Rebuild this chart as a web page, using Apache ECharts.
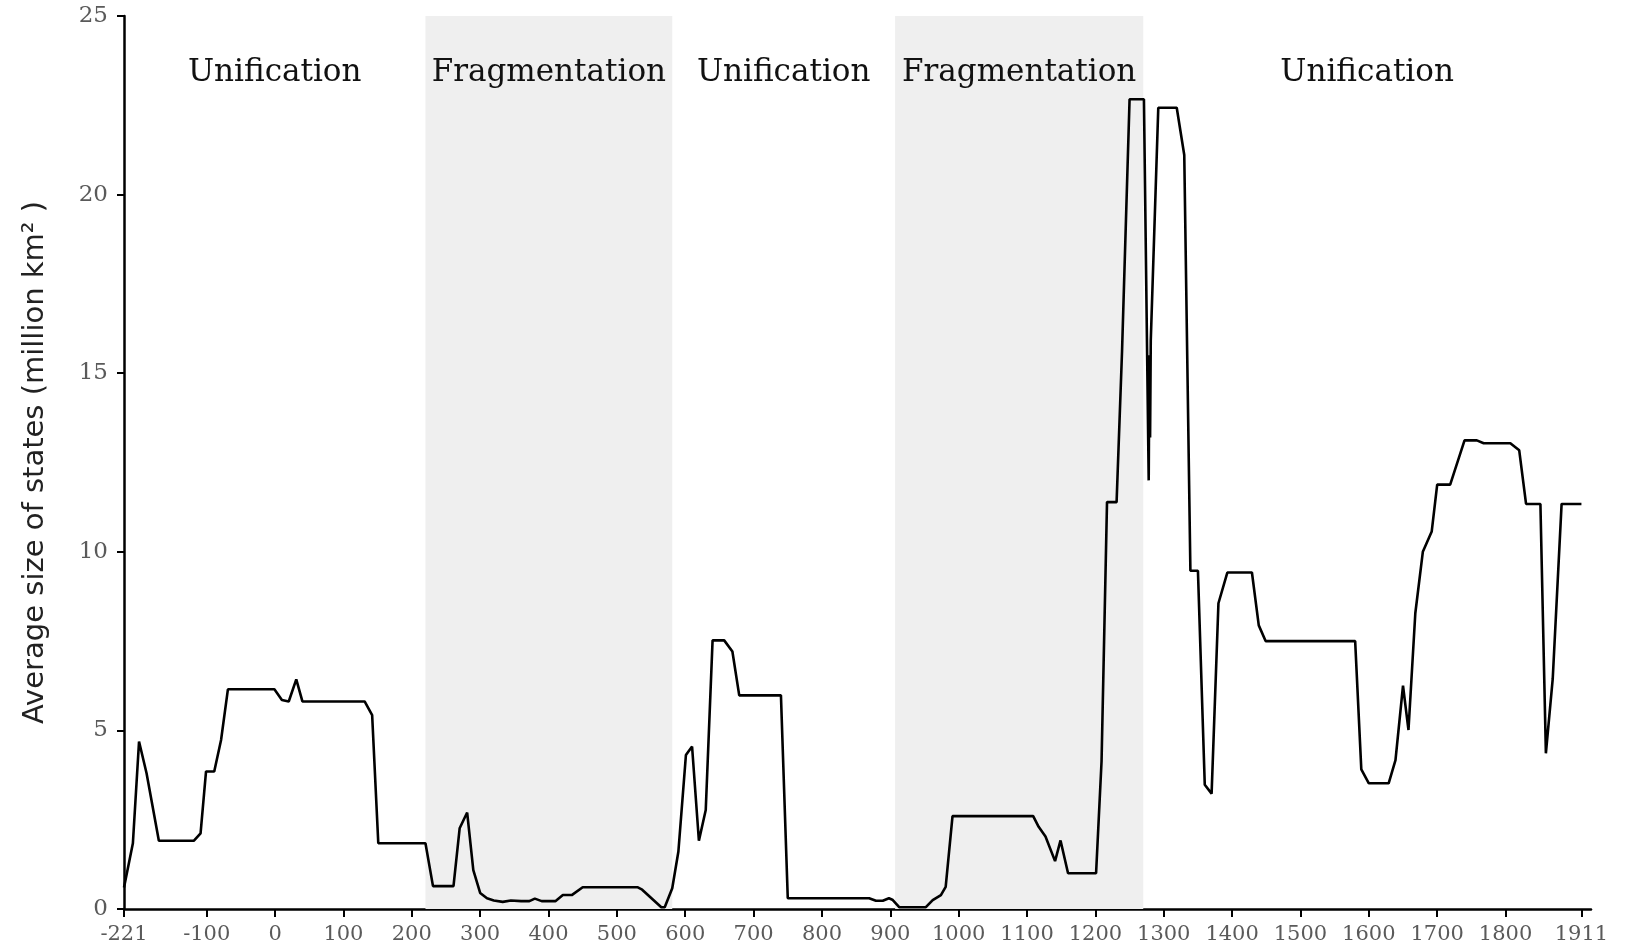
<!DOCTYPE html>
<html>
<head>
<meta charset="utf-8">
<title>Average size of states</title>
<script src="https://cdn.jsdelivr.net/npm/echarts@6/dist/echarts.min.js"></script>
<style>
  html, body { margin: 0; padding: 0; background: #fff; }
  #chart { width: 1627px; height: 950px; }
</style>
</head>
<body>
<div id="chart"></div>
<script>
// years (x) and average state size in million km2 (y)
const years = [
  -221, -208, -199, -188, -170, -119, -109, -101, -89, -79, -69, -1, 10, 20, 31, 40,
  131, 142, 151, 220, 231, 261, 270, 281, 290, 300, 310, 320, 333, 345, 360, 372,
  380, 390, 410, 421, 434, 450, 530, 537, 565, 570, 581, 590, 601, 610, 620, 630,
  640, 657, 669, 679, 740, 750, 869, 879, 889, 898, 903, 913, 952, 962, 974, 981,
  991, 1109, 1117, 1127, 1141, 1149, 1160, 1201, 1209, 1217, 1231, 1239, 1250, 1271, 1278, 1279,
  1280, 1281, 1292, 1319, 1330, 1339, 1350, 1360, 1370, 1380, 1393, 1429, 1439, 1449, 1580, 1589,
  1600, 1629, 1639, 1650, 1658, 1668, 1679, 1692, 1700, 1719, 1740, 1758, 1768, 1807, 1820, 1830,
  1851, 1859, 1869, 1882, 1911
]
const sizes = [
  0.6, 1.84, 4.69, 3.8, 1.91, 1.91, 2.12, 3.85, 3.85, 4.73, 6.15, 6.15, 5.85, 5.81, 6.43, 5.81,
  5.81, 5.43, 1.84, 1.84, 0.64, 0.64, 2.26, 2.7, 1.09, 0.45, 0.3, 0.24, 0.2, 0.24, 0.22, 0.22,
  0.29, 0.22, 0.22, 0.39, 0.39, 0.61, 0.61, 0.54, 0.05, 0.05, 0.58, 1.61, 4.31, 4.55, 1.91, 2.77,
  7.52, 7.52, 7.21, 5.98, 5.98, 0.3, 0.3, 0.23, 0.23, 0.3, 0.26, 0.05, 0.05, 0.25, 0.39, 0.62,
  2.6, 2.6, 2.3, 2.03, 1.34, 1.92, 1.0, 1.0, 4.13, 11.39, 11.39, 15.62, 22.67, 22.67, 12.0, 15.5,
  13.2, 15.9, 22.43, 22.43, 21.11, 9.47, 9.47, 3.48, 3.23, 8.56, 9.42, 9.42, 7.94, 7.5, 7.5, 3.91,
  3.52, 3.52, 4.17, 6.25, 5.01, 8.28, 10.0, 10.57, 11.88, 11.88, 13.12, 13.12, 13.04, 13.04, 12.84, 11.34,
  11.34, 4.36, 6.44, 11.34, 11.34
]

// periods: name, start year, end year
const periodNames = ['Unification', 'Fragmentation', 'Unification', 'Fragmentation', 'Unification']
const periodStart = [-221, 220, 581, 907, 1270]
const periodEnd = [220, 581, 907, 1270, 1925]

const xTicks = [-221, -100, 0, 100, 200, 300, 400, 500, 600, 700, 800, 900, 1000,
  1100, 1200, 1300, 1400, 1500, 1600, 1700, 1800, 1911]

const chart = echarts.init(document.getElementById('chart'))

const lineData = years.map((y, i) => [y, sizes[i]])

const areas = periodNames.map((name, i) => [
  {
    name: name,
    xAxis: periodStart[i],
    itemStyle: { color: name === 'Fragmentation' ? '#efefef' : 'rgba(0,0,0,0)' }
  },
  { xAxis: periodEnd[i] }
])

const serif = '"DejaVu Serif", "Liberation Serif", serif'

chart.setOption({
  animation: false,
  backgroundColor: '#fff',
  grid: {
    left: 124,
    right: 36,
    top: 16,
    bottom: 41
  },
  xAxis: {
    type: 'value',
    min: -221,
    max: 1925,
    splitLine: { show: false },
    axisLine: {
      onZero: false,
      lineStyle: { color: '#000', width: 2.5 }
    },
    axisTick: {
      length: 8,
      lineStyle: { color: '#000', width: 2 },
      customValues: xTicks
    },
    axisLabel: {
      customValues: xTicks,
      formatter: v => String(v),
      margin: 15,
      color: '#5a5a5a',
      fontFamily: serif,
      fontSize: 21
    }
  },
  yAxis: {
    type: 'value',
    min: 0,
    max: 25,
    interval: 5,
    name: 'Average size of states (million km\u00b2 )',
    nameLocation: 'middle',
    nameGap: 74,
    nameTextStyle: {
      color: '#222',
      fontFamily: '"DejaVu Sans", sans-serif',
      fontSize: 29
    },
    splitLine: { show: false },
    axisLine: {
      show: true,
      onZero: false,
      lineStyle: { color: '#000', width: 2.5 }
    },
    axisTick: {
      show: true,
      length: 7,
      lineStyle: { color: '#000', width: 2 }
    },
    axisLabel: {
      margin: 16,
      color: '#5a5a5a',
      fontFamily: serif,
      fontSize: 23
    }
  },
  series: [
    {
      type: 'line',
      data: lineData,
      symbol: 'none',
      silent: true,
      lineStyle: { color: '#000', width: 2.6 },
      markArea: {
        silent: true,
        label: {
          show: true,
          position: 'insideTop',
          distance: 41,
          color: '#111',
          fontFamily: serif,
          fontSize: 31
        },
        data: areas
      }
    }
  ]
})
</script>
</body>
</html>
